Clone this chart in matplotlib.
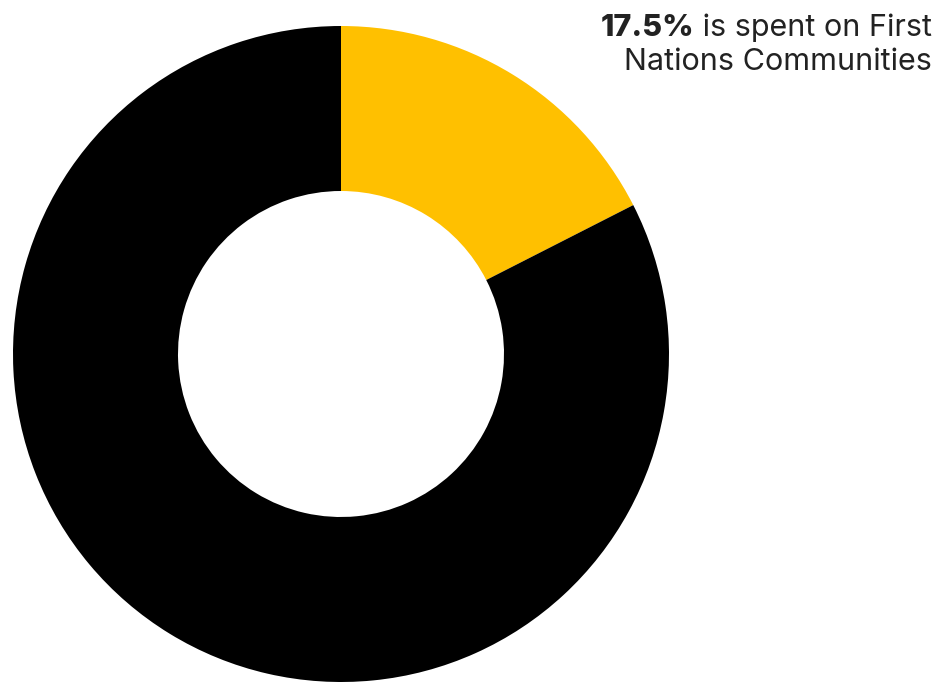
import matplotlib
matplotlib.use("Agg")
import matplotlib.pyplot as plt

# data
labels = ["First Nations Communities", "Other"]
shares = [17.5, 82.5]
colors = ["#FFC000", "#000000"]

W, H = 941, 682
fig = plt.figure(figsize=(W / 100, H / 100), dpi=100)
ax = fig.add_axes([0, 0, 1, 1])

ax.pie(shares, colors=colors, startangle=90, counterclock=False,
       center=(341, H - 354), radius=328,
       wedgeprops=dict(width=165, linewidth=0), frame=True)
ax.set_xlim(0, W)
ax.set_ylim(0, H)
ax.set_aspect("equal")
ax.axis("off")

font = "Inter"
fs = 22
txt_color = "#222222"
rest = ax.text(932, H - 36, " is spent on First", ha="right", va="baseline",
               fontsize=fs, family=font, color=txt_color)
ax.text(932, H - 70, "Nations Communities", ha="right", va="baseline",
        fontsize=fs, family=font, color=txt_color)

# bold percentage sits just left of the first line
fig.canvas.draw()
bb = rest.get_window_extent()
ax.text(bb.x0, H - 36, "17.5%", ha="right", va="baseline",
        fontsize=fs, family=font, fontweight="heavy", color=txt_color)

fig.savefig("out.png", dpi=100, facecolor="white")
